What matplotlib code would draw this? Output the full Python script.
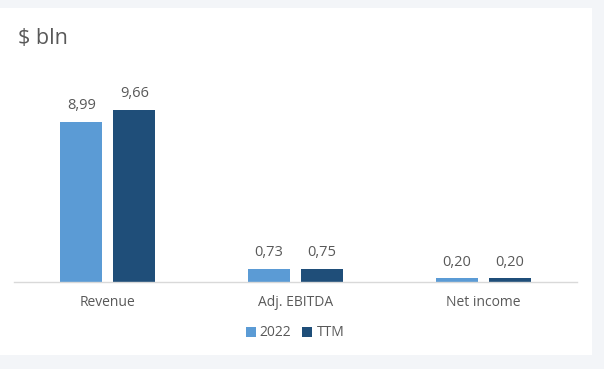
import numpy as np
import matplotlib.pyplot as plt
from matplotlib.patches import Rectangle

categories = ["Revenue", "Adj. EBITDA", "Net income"]
series_names = ["2022", "TTM"]
values_2022 = [8.99, 0.73, 0.20]
values_ttm = [9.66, 0.75, 0.20]

colors = ["#5B9BD5", "#1F4E79"]
text_color = "#595959"

plt.rcParams["font.family"] = ["Open Sans", "DejaVu Sans"]

W, H = 604, 369
fig = plt.figure(figsize=(W / 100, H / 100), dpi=100)
fig.patch.set_facecolor("#F3F5F8")

# white panel behind the axes
fig.patches.append(Rectangle((0, 1 - 355 / H), 592 / W, (355 - 8) / H,
                             transform=fig.transFigure, facecolor="white",
                             edgecolor="none", zorder=-5))

ax = fig.add_axes([14 / W, 1 - 282 / H, (577 - 14) / W, 213.6 / H])
ax.set_facecolor("none")
ax.set_zorder(2)

x = np.arange(len(categories))
width = 0.224
offset = 0.141
for i, (vals, name) in enumerate(zip([values_2022, values_ttm], series_names)):
    pos = x + (offset if i else -offset)
    bars = ax.bar(pos, vals, width, color=colors[i], label=name, zorder=2)
    for b, v in zip(bars, vals):
        ax.text(b.get_x() + b.get_width() / 2, v + 0.5, f"{v:.2f}".replace(".", ","),
                ha="center", va="bottom", fontsize=10.5, color=text_color)

ax.set_xlim(-0.5, 2.5)
ax.set_ylim(0, 12)
ax.set_yticks([])
ax.set_xticks(x)
ax.set_xticklabels(categories, fontsize=10, color=text_color)
ax.tick_params(axis="x", length=0, pad=9)
for s in ["top", "right", "left"]:
    ax.spines[s].set_visible(False)
ax.spines["bottom"].set_color("#D9D9D9")
ax.spines["bottom"].set_linewidth(1)

fig.text(18 / W, 1 - 38 / H, "$ bln", fontsize=15.5, color=text_color, va="center", ha="left")

leg = ax.legend(loc="center", bbox_to_anchor=(295 / W, 1 - 333 / H),
                bbox_transform=fig.transFigure, ncol=2, frameon=False,
                fontsize=10, handlelength=0.7, handleheight=0.7,
                handletextpad=0.3, columnspacing=0.8)
for t in leg.get_texts():
    t.set_color(text_color)

fig.savefig("out.png", dpi=100, facecolor=fig.get_facecolor())
